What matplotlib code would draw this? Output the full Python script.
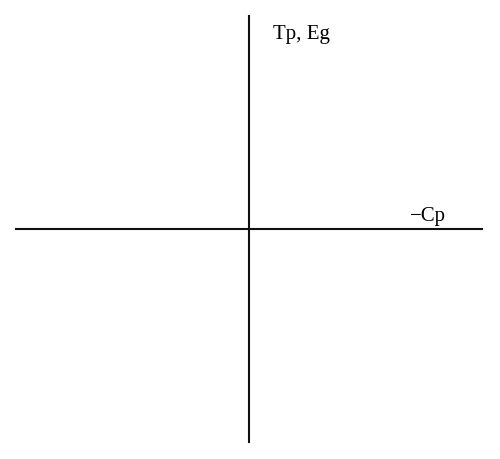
import matplotlib
matplotlib.use("Agg")
import matplotlib.pyplot as plt

# Axis labels of the schematic quadrant diagram
y_label = "Tp, Eg"
x_label = "\u2212Cp"
x_range = [-1, 1]
y_range = [-1, 1]

plt.rcParams['font.family'] = ['Liberation Serif', 'DejaVu Serif']

fig = plt.figure(figsize=(5, 4.6), dpi=100)
ax = fig.add_axes([16/500, 17/460, 466/500, 426/460])
ax.set_xlim(x_range)
ax.set_ylim(y_range)
for s in ['top', 'right']:
    ax.spines[s].set_visible(False)
ax.spines['left'].set_position(('data', 0))
ax.spines['bottom'].set_position(('data', 0))
for s in ['left', 'bottom']:
    ax.spines[s].set_linewidth(1.5)
    ax.spines[s].set_color('#111111')
ax.set_xticks([])
ax.set_yticks([])
ax.patch.set_alpha(0)

fig.text(273/500, 1 - 39/460, y_label, fontsize=15, ha='left', va='baseline')
fig.text(446/500, 1 - 221/460, x_label, fontsize=15, ha='right', va='baseline')

fig.savefig("out.png", dpi=100, facecolor='white')
